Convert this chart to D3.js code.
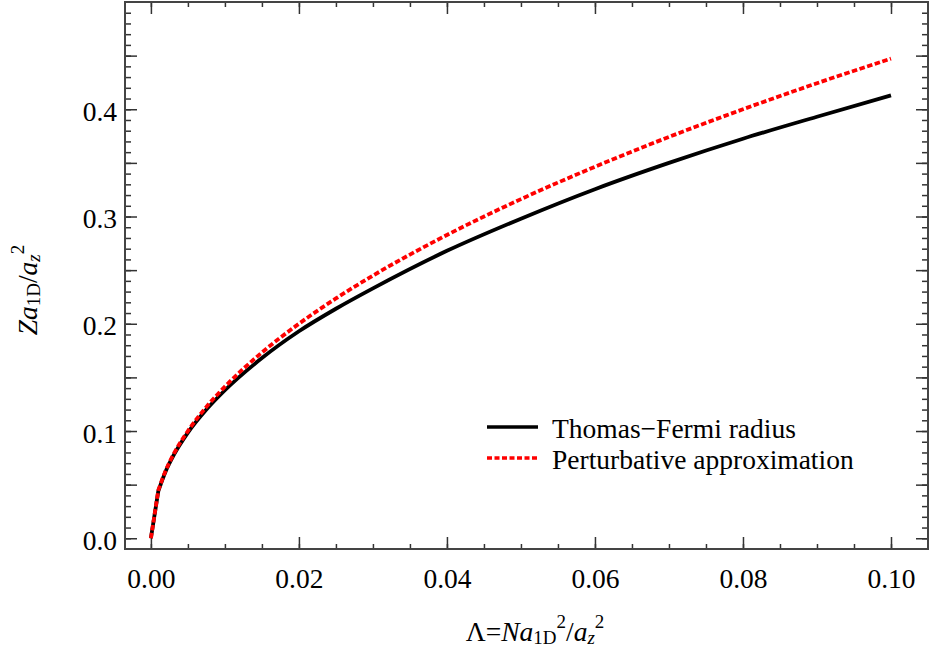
<!DOCTYPE html>
<html>
<head>
<meta charset="utf-8">
<script src="https://cdn.jsdelivr.net/npm/d3@7"></script>
<style>
  html, body { margin: 0; padding: 0; background: #fff; }
  svg { display: block; }
  text { font-family: "Liberation Serif", "Times New Roman", serif; fill: #000; }
</style>
</head>
<body>
<svg id="chart" width="929" height="655"></svg>
<script>
// ---- data ----
const lambda = [0, 0.001, 0.002, 0.003, 0.005, 0.0075, 0.01, 0.015, 0.02, 0.025, 0.03, 0.04, 0.05, 0.06, 0.07, 0.08, 0.09, 0.1];
const thomasFermi = [0, 0.044, 0.0625, 0.0765, 0.0985, 0.120, 0.138, 0.168, 0.193, 0.214, 0.233, 0.268, 0.298, 0.3255, 0.350, 0.3725, 0.393, 0.413];
const perturbative = [0, 0.0447, 0.0632, 0.0775, 0.100, 0.1225, 0.1414, 0.1732, 0.200, 0.2236, 0.2449, 0.2828, 0.3162, 0.3464, 0.3742, 0.400, 0.4243, 0.4472];
const xMajorTicks = [0, 0.02, 0.04, 0.06, 0.08, 0.1];
const xTickLabels = ["0.00", "0.02", "0.04", "0.06", "0.08", "0.10"];
const xMinorTicks = d3.range(0, 21).map(i => i * 0.005);
const yMajorTicks = [0, 0.05, 0.1, 0.15, 0.2, 0.25, 0.3, 0.35, 0.4, 0.45];
const yLabelTicks = [0, 0.1, 0.2, 0.3, 0.4];
const yTickLabels = ["0.0", "0.1", "0.2", "0.3", "0.4"];
const yMinorTicks = d3.range(0, 50).map(i => i * 0.01);
const seriesNames = ["Thomas\u2212Fermi radius", "Perturbative approximation"];

const svg = d3.select("#chart");
const L = 125, R = 928, T = 2, B = 549;
const x = d3.scaleLinear().domain([-0.0035, 0.105]).range([L, R]);
const y = d3.scaleLinear().domain([-0.01, 0.5]).range([B, T]);

const FS = 27.5;
const tickColor = "#333";

function styleAxis(g) {
  g.select(".domain").remove();
  g.selectAll(".tick line").attr("stroke", tickColor).attr("stroke-width", 1.5);
  g.selectAll(".tick text").attr("font-size", FS).attr("font-family", "Liberation Serif, Times New Roman, serif").attr("fill", "#000");
}
const xLab = v => { const i = xMajorTicks.findIndex(t => Math.abs(t - v) < 1e-9); return i >= 0 ? xTickLabels[i] : ""; };
const yLab = v => { const i = yLabelTicks.findIndex(t => Math.abs(t - v) < 1e-9); return i >= 0 ? yTickLabels[i] : ""; };

// bottom
svg.append("g").attr("transform", `translate(0,${B})`)
  .call(d3.axisBottom(x).tickValues(xMinorTicks).tickSize(-5).tickFormat(""))
  .call(styleAxis);
svg.append("g").attr("transform", `translate(0,${B})`)
  .call(d3.axisBottom(x).tickValues(xMajorTicks).tickSize(-12).tickPadding(19.5).tickFormat(xLab))
  .call(styleAxis);
// top
svg.append("g").attr("transform", `translate(0,${T})`)
  .call(d3.axisTop(x).tickValues(xMinorTicks).tickSize(-5).tickFormat(""))
  .call(styleAxis);
svg.append("g").attr("transform", `translate(0,${T})`)
  .call(d3.axisTop(x).tickValues(xMajorTicks).tickSize(-12).tickFormat(""))
  .call(styleAxis);
// left
svg.append("g").attr("transform", `translate(${L},0)`)
  .call(d3.axisLeft(y).tickValues(yMinorTicks).tickSize(-6).tickFormat(""))
  .call(styleAxis);
const yl = svg.append("g").attr("transform", `translate(${L},0)`)
  .call(d3.axisLeft(y).tickValues(yMajorTicks).tickSize(-12).tickPadding(8).tickFormat(yLab))
  .call(styleAxis);
yl.selectAll(".tick text").attr("dy", "0.4em");
// right
svg.append("g").attr("transform", `translate(${R},0)`)
  .call(d3.axisRight(y).tickValues(yMinorTicks).tickSize(-6).tickFormat(""))
  .call(styleAxis);
svg.append("g").attr("transform", `translate(${R},0)`)
  .call(d3.axisRight(y).tickValues(yMajorTicks).tickSize(-12).tickFormat(""))
  .call(styleAxis);

// frame
svg.append("rect").attr("x", L).attr("y", T).attr("width", R - L).attr("height", B - T)
  .attr("fill", "none").attr("stroke", "#444").attr("stroke-width", 2);

// lines: straight first segment (visible kink), smooth afterwards
function curvePath(vals) {
  const pts = vals.map((v, i) => [x(lambda[i]), y(v)]);
  const smooth = d3.line().curve(d3.curveMonotoneX)(pts.slice(1));
  return "M" + pts[0][0] + "," + pts[0][1] + "L" + smooth.slice(1);
}
svg.append("path").attr("d", curvePath(thomasFermi)).attr("fill", "none")
  .attr("stroke", "#000").attr("stroke-width", 3.8).attr("stroke-linejoin", "round");
svg.append("path").attr("d", curvePath(perturbative)).attr("fill", "none")
  .attr("stroke", "#ff0000").attr("stroke-width", 3.8).attr("stroke-dasharray", "5.5,2.5");

// legend
const lg = svg.append("g");
lg.append("line").attr("x1", 487).attr("x2", 538).attr("y1", 427).attr("y2", 427)
  .attr("stroke", "#000").attr("stroke-width", 3.3);
lg.append("line").attr("x1", 487).attr("x2", 538).attr("y1", 458).attr("y2", 458)
  .attr("stroke", "#ff0000").attr("stroke-width", 3.3).attr("stroke-dasharray", "5,2.5");
lg.append("text").attr("x", 552).attr("y", 438).attr("font-size", FS).text(seriesNames[0]);
lg.append("text").attr("x", 552).attr("y", 469).attr("font-size", FS).text(seriesNames[1]);

// x title: Λ=N a_1D^2 / a_z^2
const xt = svg.append("text").attr("x", 535).attr("y", 641).attr("text-anchor", "middle").attr("font-size", FS);
xt.append("tspan").text("\u039B=");
xt.append("tspan").attr("font-style", "italic").text("Na");
xt.append("tspan").attr("font-size", 19).attr("dy", 3).text("1D");
xt.append("tspan").attr("font-size", 19).attr("dy", -16).text("2");
xt.append("tspan").attr("dy", 13).text("/");
xt.append("tspan").attr("font-style", "italic").text("a");
xt.append("tspan").attr("font-style", "italic").attr("font-size", 19).attr("dy", 3).text("z");
xt.append("tspan").attr("font-size", 19).attr("dy", -16).text("2");

// y title: Z a_1D / a_z^2
const yt = svg.append("text").attr("transform", "translate(37,290) rotate(-90)")
  .attr("text-anchor", "middle").attr("font-size", FS);
yt.append("tspan").attr("font-style", "italic").text("Za");
yt.append("tspan").attr("font-size", 19).attr("dy", 3).text("1D");
yt.append("tspan").attr("dy", -3).text("/");
yt.append("tspan").attr("font-style", "italic").text("a");
yt.append("tspan").attr("font-style", "italic").attr("font-size", 19).attr("dy", 3).text("z");
yt.append("tspan").attr("font-size", 19).attr("dy", -16).text("2");
</script>
</body>
</html>
